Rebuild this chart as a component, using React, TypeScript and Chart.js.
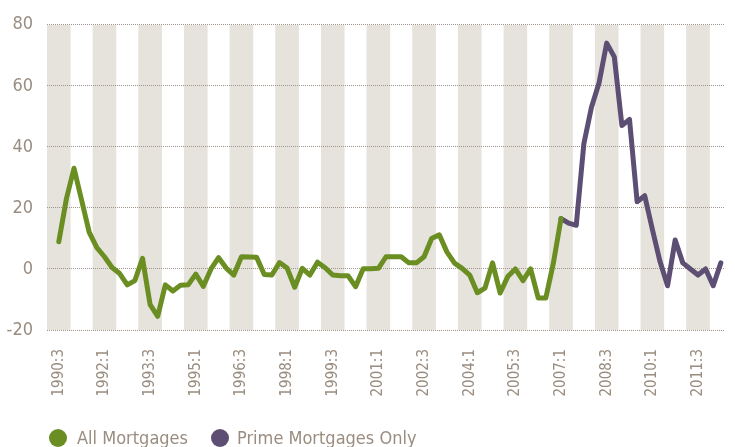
import React, { useEffect, useRef } from 'react';
import { Chart, registerables } from 'chart.js';

Chart.register(...registerables);

// ---- Data ----
const firstYear = 1990;
const firstQuarter = 3;
const quarterCount = 88;
const quarters: string[] = [];
for (let i = 0; i < quarterCount; i++) {
  const q0 = firstQuarter - 1 + i;
  quarters.push(`${firstYear + Math.floor(q0 / 4)}:${(q0 % 4) + 1}`);
}

// All Mortgages, 1990:3 .. 2007:1
const allMortgages = [
  8.9, 23, 33, 22.5, 12, 7, 4, 0.5, -1.5, -5.2,
  -3.8, 3.5, -11.7, -15.5, -5.2, -7.2, -5.3, -5.2, -1.7, -5.7,
  0, 3.7, 0.3, -2, 4, 3.9, 3.8, -1.8, -2, 2.1,
  0.3, -6, 0.2, -2, 2.2, 0.4, -2, -2.2, -2.2, -5.8,
  0.1, 0.1, 0.2, 4, 4, 4, 2, 2, 4, 10,
  11.2, 5.6, 1.9, 0.2, -2, -7.8, -6.3, 2, -7.9, -2.5,
  0, -3.8, 0, -9.5, -9.5, 2, 16.5,
];

// Prime Mortgages Only, 2007:1 .. 2012:2
const primeStart = '2007:1';
const primeMortgages = [
  16.5, 15, 14.3, 41, 53, 61, 74, 69.5, 47, 49,
  22, 24, 13, 2.5, -5.5, 9.5, 2, 0, -2, 0,
  -5.5, 2,
];

const tickLabels = [
  '1990:3', '1992:1', '1993:3', '1995:1', '1996:3', '1998:1', '1999:3', '2001:1',
  '2002:3', '2004:1', '2005:3', '2007:1', '2008:3', '2010:1', '2011:3',
];
const yTicks = [-20, 0, 20, 40, 60, 80];

const seriesNames = ['All Mortgages', 'Prime Mortgages Only'];
const seriesColors = ['#6b8e23', '#5d4f73'];

// ---- Styles ----
const TEXT = '#9a8d80';
const GRID = '#a0948a';
const STRIPE = '#e6e2dc';
const NARROW = "'DejaVu Sans Condensed', 'DejaVu Sans', sans-serif";

const stripePlugin = {
  id: 'stripes',
  beforeDraw(chart: any) {
    const { ctx, chartArea, scales } = chart;
    const xs = scales.x;
    ctx.save();
    ctx.beginPath();
    ctx.rect(chartArea.left, chartArea.top, chartArea.right - chartArea.left, chartArea.bottom - chartArea.top);
    ctx.clip();
    ctx.fillStyle = STRIPE;
    tickLabels.forEach((lab) => {
      const idx = quarters.indexOf(lab);
      const x0 = xs.getPixelForValue(idx - 1.55);
      const x1 = xs.getPixelForValue(idx + 1.55);
      ctx.fillRect(x0, chartArea.top, x1 - x0, chartArea.bottom - chartArea.top);
    });
    ctx.restore();
  },
};

export default function App() {
  const ref = useRef<HTMLCanvasElement | null>(null);

  useEffect(() => {
    if (!ref.current) return;
    const primeOffset = quarters.indexOf(primeStart);
    const greenData = allMortgages.map((v, i) => ({ x: i, y: v }));
    const purpleData = primeMortgages.map((v, i) => ({ x: primeOffset + i, y: v }));

    const chart = new Chart(ref.current, {
      type: 'line',
      data: {
        datasets: [
          {
            label: seriesNames[0],
            data: greenData,
            borderColor: seriesColors[0],
            backgroundColor: seriesColors[0],
            borderWidth: 5,
            pointRadius: 0,
            tension: 0,
            borderJoinStyle: 'round',
            borderCapStyle: 'round',
          },
          {
            label: seriesNames[1],
            data: purpleData,
            borderColor: seriesColors[1],
            backgroundColor: seriesColors[1],
            borderWidth: 5,
            pointRadius: 0,
            tension: 0,
            borderJoinStyle: 'round',
            borderCapStyle: 'round',
          },
        ],
      },
      options: {
        animation: false,
        responsive: true,
        maintainAspectRatio: false,
        layout: { padding: { top: 23, left: 0, right: 0, bottom: 0 } },
        plugins: {
          legend: { display: false },
          tooltip: { enabled: false },
        },
        scales: {
          x: {
            type: 'linear',
            min: -1.55,
            max: 87.5,
            grid: { display: false, drawTicks: false },
            border: { display: false },
            afterBuildTicks: (scale: any) => {
              scale.ticks = tickLabels.map((l) => ({ value: quarters.indexOf(l) }));
            },
            afterFit: (scale: any) => {
              scale.height = 117;
            },
            ticks: {
              autoSkip: false,
              minRotation: 90,
              maxRotation: 90,
              padding: 19,
              color: TEXT,
              font: { family: NARROW, size: 15 },
              callback: (v: any) => quarters[Math.round(v)] ?? '',
            },
          },
          y: {
            type: 'linear',
            min: -20,
            max: 80,
            afterBuildTicks: (scale: any) => {
              scale.ticks = yTicks.map((v) => ({ value: v }));
            },
            afterFit: (scale: any) => {
              scale.width = 47;
            },
            grid: {
              color: GRID,
              lineWidth: 1,
              drawTicks: false,
            },
            border: { display: false, dash: [1, 1] },
            ticks: {
              padding: 14,
              color: TEXT,
              font: { family: NARROW, size: 18 },
            },
          },
        },
      },
      plugins: [stripePlugin],
    } as any);
    return () => chart.destroy();
  }, []);

  const legendText: React.CSSProperties = {
    position: 'absolute',
    top: 428,
    fontFamily: NARROW,
    fontSize: 18,
    lineHeight: '20px',
    color: TEXT,
    whiteSpace: 'nowrap',
  };
  const dot = (left: number, color: string): React.CSSProperties => ({
    position: 'absolute',
    left,
    top: 429,
    width: 18,
    height: 18,
    borderRadius: '50%',
    background: color,
  });

  return (
    <div style={{ position: 'fixed', left: 0, top: 0, width: 735, height: 447, background: '#fff', overflow: 'hidden' }}>
      <div style={{ position: 'absolute', left: 0, top: 0, width: 735, height: 447 }}>
        <canvas ref={ref} />
      </div>
      <div style={dot(49, seriesColors[0])} />
      <div style={{ ...legendText, left: 77 }}>{seriesNames[0]}</div>
      <div style={dot(211, seriesColors[1])} />
      <div style={{ ...legendText, left: 237 }}>{seriesNames[1]}</div>
    </div>
  );
}
